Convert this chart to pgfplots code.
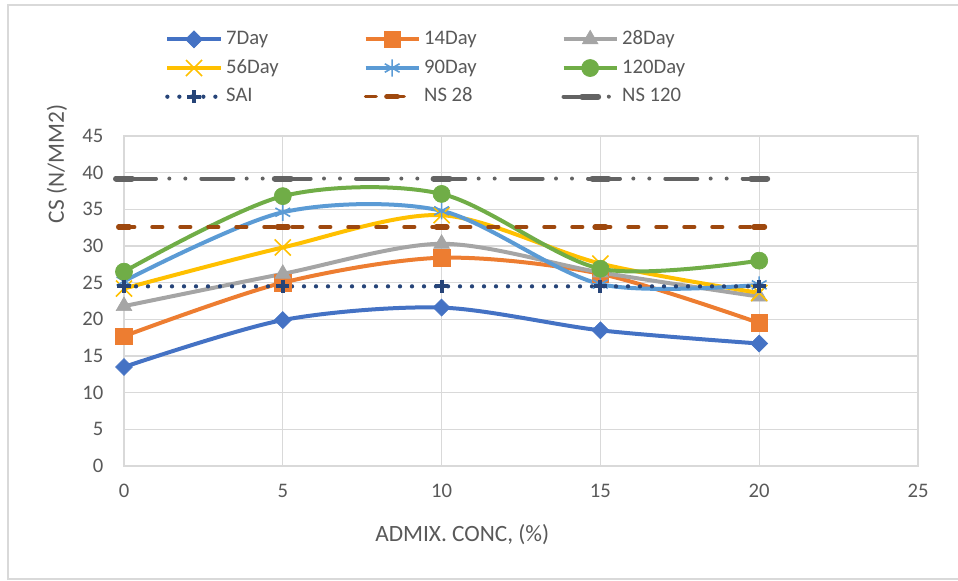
\documentclass[border=0pt]{standalone}
\usepackage{fontspec}
\setmainfont{Carlito}
\usepackage{pgfplots}
\pgfplotsset{compat=1.18}
\definecolor{c7}{HTML}{4472C4}
\definecolor{c14}{HTML}{ED7D31}
\definecolor{c28}{HTML}{A5A5A5}
\definecolor{c56}{HTML}{FFC000}
\definecolor{c90}{HTML}{5B9BD5}
\definecolor{c120}{HTML}{70AD47}
\definecolor{cSAI}{HTML}{264478}
\definecolor{cNS28}{HTML}{9E480E}
\definecolor{cNS120}{HTML}{636363}
\definecolor{txt}{HTML}{595959}
\definecolor{gridc}{HTML}{D9D9D9}
\newcommand{\lgd}[1]{\makebox[102pt][l]{#1}}
\begin{document}
\begin{tikzpicture}[font=\fontsize{15.5}{18}\selectfont]
\path[use as bounding box] (-93pt,-86.25pt) rectangle (625.5pt,349.5pt);
\draw[gridc, line width=1pt] (630pt,345.75pt) -- (-87pt,345.75pt) -- (-87pt,-84.75pt) -- (630pt,-84.75pt);
\begin{axis}[
  at={(0,0)}, anchor=south west,
  scale only axis, width=595.5pt, height=247.5pt,
  xmin=0, xmax=25, ymin=0, ymax=45,
  xtick={0,5,...,25}, ytick={0,5,...,45},
  grid=major, grid style={gridc, line width=1pt},
  axis line style={gridc, line width=1pt},
  major tick length=0pt,
  tick label style={text=txt},
  /pgf/number format/assume math mode=true,
  xticklabel style={yshift=-10pt},
  yticklabel style={xshift=-12pt},
  xlabel={ADMIX. CONC, (\%)},
  ylabel={CS (N/MM2)},
  label style={text=txt, font=\fontsize{17.5}{20}\selectfont},
  xlabel style={at={(axis description cs:0.426,-0.209)}, anchor=center},
  ylabel style={at={(axis description cs:-0.0844,0.915)}, anchor=center, rotate=0},
  legend columns=3,
  legend style={at={(axis description cs:0.0516,1.327)}, anchor=north west,
    draw=none, fill=none, inner sep=0pt, text=txt,
    cells={anchor=west},
    nodes={inner sep=1pt, text height=11pt, text depth=3.5pt},
    /tikz/row sep=5pt,
    /tikz/every odd column/.append style={column sep=1.5pt}},
  legend image code/.code={\draw[mark repeat=2, mark phase=2, #1] plot coordinates {(0pt,0pt) (20pt,0pt) (40pt,0pt)};},
  every axis plot/.append style={line width=3pt},
]
\addplot[c7, smooth, mark=square*, mark size=4.5pt, mark options={rotate=45, solid, line width=0.5pt}]
  coordinates {(0,13.5) (5,19.9) (10,21.6) (15,18.5) (20,16.7)};
\addlegendentry{\lgd{7Day}}
\addplot[c14, smooth, mark=square*, mark size=6.2pt, mark options={solid, line width=0.5pt}]
  coordinates {(0,17.7) (5,25.0) (10,28.4) (15,26.2) (20,19.5)};
\addlegendentry{\lgd{14Day}}
\addplot[c28, smooth, mark=triangle*, mark size=6.8pt, mark options={solid, line width=0.5pt}]
  coordinates {(0,21.8) (5,26.2) (10,30.3) (15,26.4) (20,23.1)};
\addlegendentry{\lgd{28Day}}
\addplot[c56, smooth, mark=x, mark size=8.5pt, mark options={solid, line width=1.2pt}]
  coordinates {(0,24.2) (5,29.8) (10,34.2) (15,27.6) (20,23.6)};
\addlegendentry{\lgd{56Day}}
\addplot[c90, smooth, mark=asterisk, mark size=6.4pt, mark options={solid, line width=1.2pt}]
  coordinates {(0,25.2) (5,34.6) (10,34.8) (15,24.8) (20,24.7)};
\addlegendentry{\lgd{90Day}}
\addplot[c120, smooth, mark=*, mark size=6.4pt, mark options={solid, line width=0.5pt}]
  coordinates {(0,26.5) (5,36.8) (10,37.1) (15,26.9) (20,28.0)};
\addlegendentry{\lgd{120Day}}
\addplot[cSAI, line width=3.2pt, line cap=round, dash pattern=on 0pt off 9pt, mark=+, mark size=5pt, mark options={solid, line width=3pt, line cap=butt}]
  coordinates {(0,24.5) (5,24.5) (10,24.5) (15,24.5) (20,24.5)};
\addlegendentry{\lgd{SAI}}
\addplot[cNS28, line width=2.6pt, line cap=round, dash pattern=on 8pt off 13pt, mark=-, mark size=4pt, mark options={solid, line width=4pt, line cap=round}]
  coordinates {(0,32.6) (5,32.6) (10,32.6) (15,32.6) (20,32.6)};
\addlegendentry{\lgd{NS 28}}
\addplot[cNS120, line width=3pt, line cap=round, dash pattern=on 24pt off 10pt on 0pt off 12pt on 0pt off 12pt, mark=-, mark size=6pt, mark options={solid, line width=4.5pt, line cap=round}]
  coordinates {(0,39.2) (5,39.2) (10,39.2) (15,39.2) (20,39.2)};
\addlegendentry{\lgd{NS 120}}
\end{axis}
\end{tikzpicture}
\end{document}
